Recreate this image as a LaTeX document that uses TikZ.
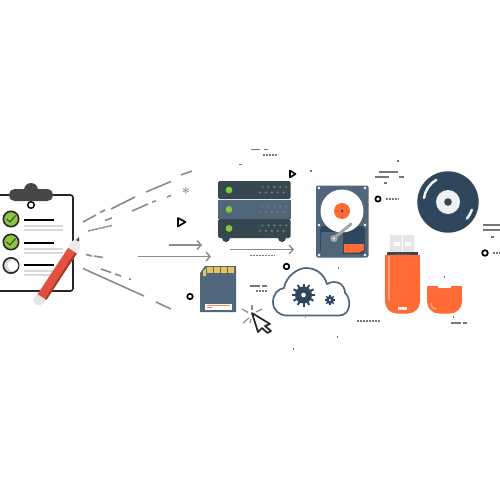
\documentclass[tikz,border=0pt]{standalone}
\usetikzlibrary{arrows.meta,calc}
\definecolor{navy}{HTML}{2E475D}
\definecolor{slate}{HTML}{50667A}
\definecolor{dk}{HTML}{37474F}
\definecolor{orng}{HTML}{FF6B35}
\definecolor{grn}{HTML}{8CC63F}
\definecolor{gry}{HTML}{8C8C8C}
\definecolor{pencilred}{HTML}{E2503F}
\definecolor{contact}{HTML}{E8C35A}
\tikzset{x=1pt,y=-1pt,
 dashline/.style={draw=gry,line width=1.6pt},
 flow/.style={draw=gry,line width=1.6pt,-{Straight Barb[length=4pt,width=9pt,line width=1.4pt]}},
 tiny/.style={draw=gry!85!black,line width=1.2pt},
 speck/.style={draw=gry!85!black,line width=1.2pt,dash pattern=on 1.6pt off 1.4pt},
 ringmark/.style={draw=black,line width=1.7pt,fill=white},
 textline/.style={draw=black,line width=1.6pt},
 subline/.style={draw=black!15,line width=1.3pt},
 outl/.style={draw=black!85,line width=1.6pt},
 ledg/.style={fill=grn!90!green},
 dotg/.style={fill=gray!80!slate}}
\begin{document}
\begin{tikzpicture}
\useasboundingbox (0,0) rectangle (500,500);
\fill[white] (0,0) rectangle (500,500);
% clipboard
\draw[outl,fill=white,rounded corners=2.5pt] (-6,195) rectangle (73,291);
\fill[black!72,rounded corners=5.5pt] (9,201) -- (9,189) -- (53,189) -- (53,201) -- cycle;
\fill[black!72] (31,190) circle (7);
\draw[ringmark,line width=1.4pt] (31,205) circle (3.3);
\foreach \y/\c in {219/grn,242/grn}{
 \draw[outl,fill=\c] (11,\y) circle (7.7);
 \draw[black!75,line width=1pt] (6.5,\y) -- (10,{\y+3}) -- (15.5,{\y-3.5});
}
\draw[outl,fill=black!15] (11,265.5) circle (7.7);
\fill[white] (13,265.5) circle (5.4);
\foreach \y in {220,243,265}{
 \draw[textline] (24,\y) -- (54,\y);
 \draw[subline] (24,{\y+6}) -- (63,{\y+6});
 \draw[subline] (24,{\y+10}) -- (63,{\y+10});
}
% pencil
\draw[black!10,line width=11pt,line cap=round] (39,300) -- (42,296);
\draw[pencilred,line width=10.5pt] (73,250) -- (42,297);
\draw[pencilred!70!black,line width=1.6pt] (76.5,252) -- (46,299);
\fill[black!8] (68,247.5) -- (77,253.5) -- (80,248) -- (79,237) -- (71,242) -- cycle;
\fill[navy] (79,237) -- (76,240) -- (79,241.5) -- cycle;
% dashed rays
\foreach \a/\b/\c/\d in {83/222/96/215,100/212.5/105/210,111/209/135/197,146/192/171/181.5,181/175/192/171,
 105/220.5/112/218,132/211/148/204,152/202/156/201,167/197/171/195.5,
 86/254.5/92/256,94/256/103/257.5,
 101/269/111/272.5,115/274/121/276,129/279/131/279.5,
 83/268.5/144/296,156/302/171/309}
 \draw[dashline] (\a,\b) -- (\c,\d);
\draw[gry,line width=1.5pt,dash pattern=on 3pt off .6pt] (88,231) -- (112,225.5);
\node[gry,inner sep=0pt,font=\Large\bfseries] (star) at (186,193) {*};
% triangle marks
\draw[black,line width=1.6pt,line join=round] (178,218) -- (185.5,222) -- (178,226.5) -- cycle;
\draw[black,line width=1.6pt,line join=round] (290,170.5) -- (295.5,174) -- (290,177.5) -- cycle;
% arrows
\coordinate (a1) at (169,245); \coordinate (a2) at (202,245);
\coordinate (b1) at (138,256.5); \coordinate (b2) at (211,256.5);
\coordinate (c1) at (230,249.5); \coordinate (c2) at (294,249.5);
\draw[flow] (a1) -- (a2);
\draw[flow] (b1) -- (b2);
\draw[flow] (c1) -- (c2);
% rings
\draw[ringmark] (190,296.5) circle (2.7);
\draw[ringmark] (286.5,266.5) circle (2.8);
\draw[ringmark] (378,199) circle (2.6);
\draw[ringmark] (485,253) circle (2.8);
% server
\fill[navy] (226,238) circle (4) (282,238) circle (4);
\fill[dk,rounded corners=1.5pt] (218,181) rectangle (290.5,199);
\fill[slate] (218,199.5) rectangle (290.5,218.5);
\fill[dk,rounded corners=1.5pt] (218,219) rectangle (290.5,238);
\foreach \y in {190,209.5,228.5}{
 \fill[ledg] (229,\y) circle (3.4);
 \foreach \i in {0,1,2,3,4}{
  \fill[dotg] ({262.5+\i*5.9},{\y-3}) circle (1.2);
  \fill[dotg] ({260+\i*5.9},{\y+2.5}) circle (1.2);
 }}
% hdd
\fill[slate,rounded corners=2pt] (316,185.5) rectangle (368.5,257.5);
\fill[navy,rounded corners=4pt] (320,226) rectangle (365,254);
\fill[slate,rounded corners=2pt] (321,232) rectangle (343,254);
\fill[white] (342,211) circle (21.5);
\fill[orng] (342,211) circle (8);
\fill[navy] (342,211) circle (1.5);
\foreach \a in {0,90,180,270}\fill[navy!70!orng] ({342+5*cos(\a)},{211+5*sin(\a)}) circle (.6);
\draw[black!35,line width=3pt,line cap=round] (351,224) -- (333,239);
\draw[black!35,line width=2pt] (334,238.5) circle (2.6);
\fill[white] (334,238.5) circle (1.2);
\fill[orng] (344,244) -- (364,244) -- (364,250) -- (359,252.5) -- (344,252.5) -- cycle;
\foreach \p in {(319,188),(365,188),(319,225),(365,225),(319,255),(365,255)}
 \fill[white] \p circle (1.4);
% sd card
\fill[slate] (200,280) -- (200,273) -- (205,266) -- (236,266) -- (236,312) -- (200,312) -- cycle;
\fill[contact] (203,276) -- (203,271) -- (206,268) -- (206,276) -- cycle;
\foreach \i in {0,...,7}
 \fill[contact] ({206.5+\i*3.55},266.5) rectangle ({209.6+\i*3.55},272.5);
\fill[white] (205,303.5) rectangle (232,310);
\draw[red!45!orange!60,line width=.7pt] (207,305.5) -- (230,305.5);
\draw[red!45!orange!60,line width=1pt] (207,307.5) -- (212,307.5);
% cloud
\draw[slate,line width=1.7pt,line join=round,fill=white] (287,315.5)
 .. controls (279,315.5) and (273,310) .. (273,302)
 .. controls (273,294) and (278,289) .. (284,288)
 .. controls (286,276) and (298,268) .. (306,268)
 .. controls (316,268) and (324,274) .. (327,284)
 .. controls (336,279) and (345,284) .. (345,293)
 .. controls (351,297) and (352,315.5) .. (339,315.5) -- cycle;
\fill[navy] (303.5,295) circle (8.5);
\foreach \a in {0,30,...,330}
 \draw[navy,line width=2pt] ($(303.5,295)+(\a:7)$) -- ++(\a:4.5);
\fill[white] (303.5,295) circle (2.3);
\fill[navy] (330,300) circle (4);
\foreach \a in {0,45,...,315}
 \draw[navy,line width=1.3pt] ($(330,300)+(\a:3)$) -- ++(\a:2.4);
\fill[white] (330,300) circle (1.2);
% cursor
\draw[black!85,line width=1.7pt,line join=round,fill=white] (252,313) -- (270,324) -- (265,326) -- (271,331) -- (267.5,333) -- (262,328) -- (258,332) -- cycle;
\foreach \a/\b/\c/\d in {252/305/252/310,242/309/248/312.5,262/309/256/312,243/323/249/318,250/323/251/319}
 \draw[gry,line width=1.2pt] (\a,\b) -- (\c,\d);
% disc
\fill[navy] (448,202) circle (30.7);
\fill[black!6] (448,202) circle (12);
\fill[navy] (448,202) circle (3.8);
\draw[black!6,line width=2.5pt,line cap=round] (424,198) arc[start angle=188,end angle=240,radius=25];
\draw[black!6,line width=2.5pt,line cap=round] (467,218.5) arc[start angle=40,end angle=18,radius=26];
% usb
\fill[black!10] (390,235) rectangle (414,253);
\draw[white,line width=.8pt] (402,235) -- (402,253);
\fill[white] (394,242) rectangle (400,246) (405,242) rectangle (411,246);
\fill[dk] (387,252) rectangle (418,255);
\fill[orng,rounded corners=12pt] (385,254.5) -- (385,313.5) -- (420,313.5) -- (420,254.5) -- cycle;
\fill[orng] (385,254.5) rectangle (420,270);
\fill[orng!65!white] (388,256) rectangle (390,300);
\fill[white!85!orng] (398,307) rectangle (407,310);
\fill[orng,rounded corners=12pt] (427,286) -- (427,313.5) -- (462,313.5) -- (462,286) -- cycle;
\fill[orng] (427,286) rectangle (462,298);
\fill[white] (438,285) rectangle (451,287.6);
\draw[orng!65!white,line width=1.5pt] (431,303) .. controls (431,307) and (433,309) .. (436,309);
% specks and small dashes
\foreach \a/\b/\c/\d in {251/149.5/260/149.5,264/149.5/268/149.5,239/164.5/242/164.5,310/171/312/171,
 379/172/398/172,375/177/389/177,399/177/404/177,384/183/387/183,397/161/399/161,
 483/225/500/225,483/230/500/230,491/237/494/237,
 250/286/260/286,262/286/267/286,
 451/323/461/323,463/323/467/323,
 293/349/294/349,337/337/338/337,338/268/339/268,305/317.5/306/317.5,444/277/445/277,453/317/454/317}
 \draw[tiny] (\a,\b) -- (\c,\d);
\foreach \a/\b/\c/\d in {263/155/278/155,250/255.5/275/255.5,256/291/268/291,357/321/381/321,386/199/399/199,493/253/500/253}
 \draw[speck] (\a,\b) -- (\c,\d);
\end{tikzpicture}
\end{document}
